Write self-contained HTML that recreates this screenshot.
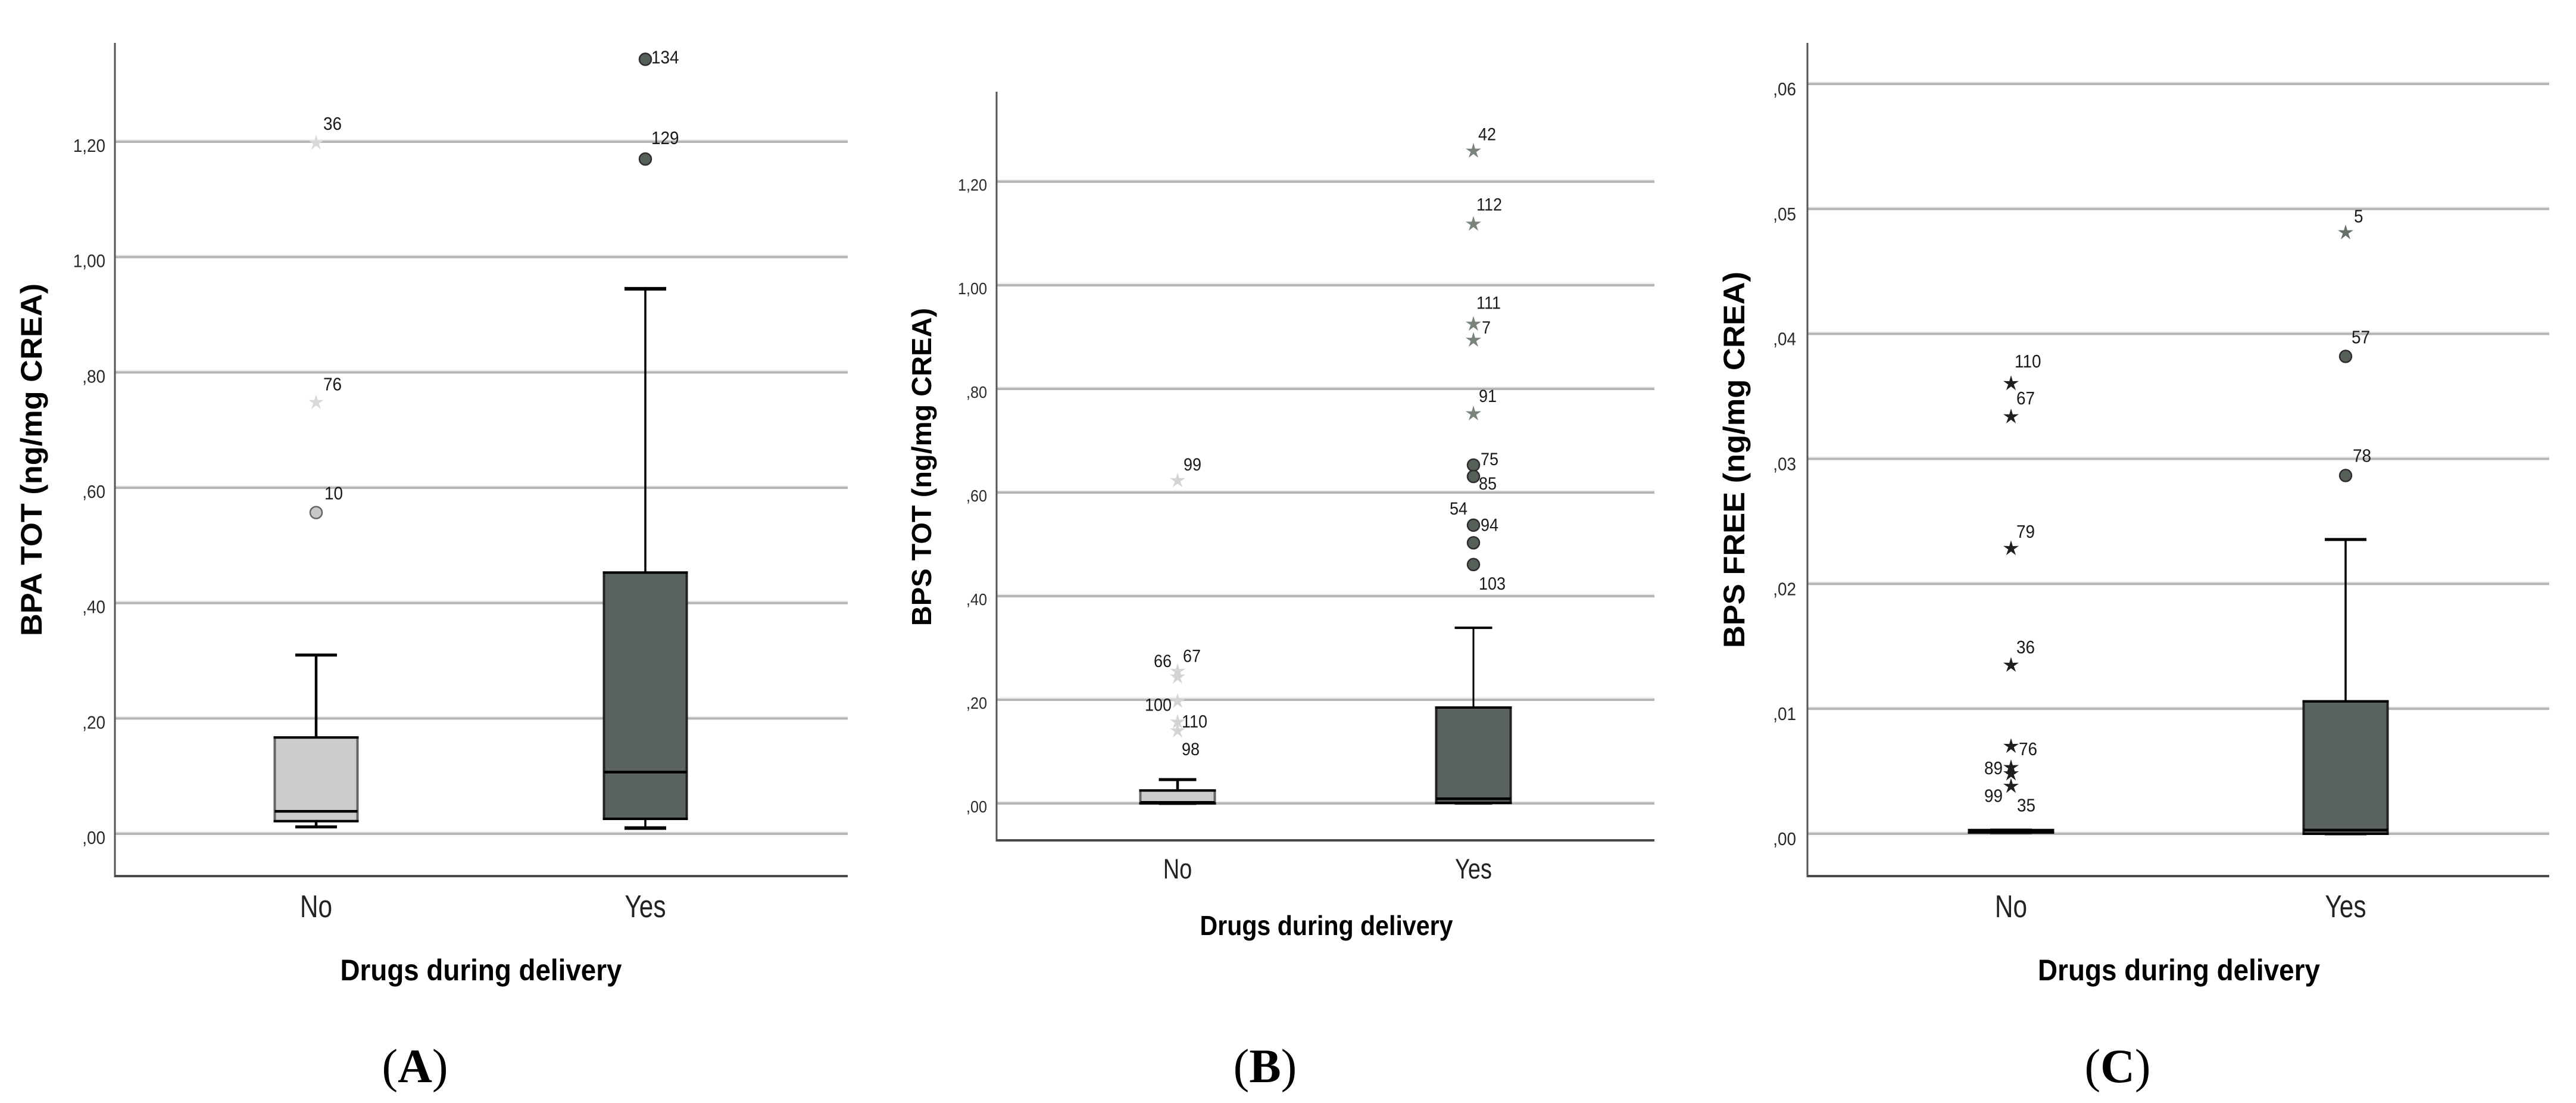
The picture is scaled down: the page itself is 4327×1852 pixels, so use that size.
<!DOCTYPE html>
<html lang="en">
<head>
<meta charset="utf-8">
<title>Boxplots by drugs during delivery</title>
<style>
html,body{margin:0;padding:0;background:#fff;width:4327px;height:1852px;overflow:hidden}
svg{display:block}
text{font-family:"Liberation Sans",sans-serif}
</style>
</head>
<body>
<svg id="figure" xmlns="http://www.w3.org/2000/svg" width="4327" height="1852" viewBox="0 0 4327 1852">
  <rect x="0" y="0" width="4327" height="1852" fill="#ffffff"/>
</svg>
<script>
// ---------- Data ----------
const categories = ['No', 'Yes'];

// Panel A: BPA TOT
const aTickValues = [0, 0.2, 0.4, 0.6, 0.8, 1.0, 1.2];
const aTickLabels = [',00', ',20', ',40', ',60', ',80', '1,00', '1,20'];
// box stats order: whisker low, q1, median, q3, whisker high
const aBoxNo = [0.012, 0.022, 0.039, 0.167, 0.31];
const aBoxYes = [0.010, 0.026, 0.107, 0.453, 0.945];
const aStarNoValues = [1.198, 0.748];
const aStarNoIds = ['36', '76'];
const aCircleNoValues = [0.557];
const aCircleNoIds = ['10'];
const aCircleYesValues = [1.343, 1.170];
const aCircleYesIds = ['134', '129'];

// Panel B: BPS TOT
const bTickValues = [0, 0.2, 0.4, 0.6, 0.8, 1.0, 1.2];
const bTickLabels = [',00', ',20', ',40', ',60', ',80', '1,00', '1,20'];
const bBoxNo = [0.000, 0.000, 0.002, 0.025, 0.046];
const bBoxYes = [0.000, 0.001, 0.009, 0.185, 0.339];
const bStarNoValues = [0.623, 0.255, 0.244, 0.197, 0.157, 0.140];
const bStarNoIds = ['99', '66', '67', '100', '110', '98'];
const bStarYesValues = [1.259, 1.118, 0.925, 0.894, 0.752];
const bStarYesIds = ['42', '112', '111', '7', '91'];
const bCircleYesValues = [0.653, 0.631, 0.537, 0.503, 0.461];
const bCircleYesIds = ['75', '85', '54', '94', '103'];

// Panel C: BPS FREE
const cTickValues = [0, 0.01, 0.02, 0.03, 0.04, 0.05, 0.06];
const cTickLabels = [',00', ',01', ',02', ',03', ',04', ',05', ',06'];
const cBoxNo = [0.0001, 0.0001, 0.0002, 0.0003, 0.0003];
const cBoxYes = [0.0000, 0.0000, 0.0003, 0.0106, 0.02355];
const cStarNoValues = [0.03603, 0.03337, 0.02283, 0.01349, 0.0070, 0.0053, 0.0048, 0.0038];
const cStarNoIds = ['110', '67', '79', '36', '76', '89', '99', '35'];
const cStarYesValues = [0.0481];
const cStarYesIds = ['5'];
const cCircleYesValues = [0.0382, 0.02867];
const cCircleYesIds = ['57', '78'];

// ---------- Layout (not data) ----------
const panels = [
  {
    key: 'a', letter: 'A', yTitle: 'BPA TOT (ng/mg CREA)',
    ticks: aTickValues, tickLabels: aTickLabels,
    boxes: [aBoxNo, aBoxYes],
    stars: [[aStarNoValues, aStarNoIds], [[], []]],
    circles: [[aCircleNoValues, aCircleNoIds], [aCircleYesValues, aCircleYesIds]],
    axisX: 193, axisTop: 72, axisBottom: 1471, right: 1424,
    zeroY: 1400, domainMax: 1.2, rangeTop: 238,
    centers: [531, 1084], boxW: 139, capW: 70,
    whiskerW: [4.5, 3.5], capH: [5, 6],
    tickSize: 31, tickRight: 177, tickDy: 17,
    catSize: 53, catY: 1540,
    xTitle: [808, 1646, 473, 50], yTitlePos: [70, 772, 592, 50],
    panelX: 697,
    labelSize: 31,
    offsets: { '36': [12, -22], '76': [12, -20], '10': [14, -22], '134': [10, 7], '129': [10, -25] },
    starColor: ['#d9d9d9', '#7a827c']
  },
  {
    key: 'b', letter: 'B', yTitle: 'BPS TOT (ng/mg CREA)',
    ticks: bTickValues, tickLabels: bTickLabels,
    boxes: [bBoxNo, bBoxYes],
    stars: [[bStarNoValues, bStarNoIds], [bStarYesValues, bStarYesIds]],
    circles: [[[], []], [bCircleYesValues, bCircleYesIds]],
    axisX: 1674, axisTop: 154, axisBottom: 1411, right: 2779,
    zeroY: 1349, domainMax: 1.2, rangeTop: 305,
    centers: [1978, 2475], boxW: 125, capW: 63,
    whiskerW: [4.5, 3], capH: [5, 4],
    tickSize: 28, tickRight: 1658, tickDy: 15,
    catSize: 47.5, catY: 1475,
    xTitle: [2228, 1570, 425, 46], yTitlePos: [1564, 784, 534, 46],
    panelX: 2125,
    labelSize: 30,
    offsets: {
      '99': [10, -17], '66': [-40, -7], '67': [9, -25], '100': [-55, 16], '110': [7, 9], '98': [7, 41],
      '42': [8, -18], '112': [5, -23], '111': [5, -26], '7': [14, -11], '91': [9, -20],
      '75': [12, 0], '85': [9, 22], '54': [-40, -18], '94': [12, -20], '103': [9, 42]
    },
    starColor: ['#d4d4d4', '#7a827c']
  },
  {
    key: 'c', letter: 'C', yTitle: 'BPS FREE (ng/mg CREA)',
    ticks: cTickValues, tickLabels: cTickLabels,
    boxes: [cBoxNo, cBoxYes],
    stars: [[cStarNoValues, cStarNoIds], [cStarYesValues, cStarYesIds]],
    circles: [[[], []], [cCircleYesValues, cCircleYesIds]],
    axisX: 3036, axisTop: 72, axisBottom: 1471, right: 4282,
    zeroY: 1400, domainMax: 0.06, rangeTop: 141,
    centers: [3378, 3940], boxW: 141, capW: 70,
    whiskerW: [4, 3.5], capH: [5, 5],
    tickSize: 31, tickRight: 3017, tickDy: 19,
    catSize: 53, catY: 1540,
    xTitle: [3660, 1646, 474, 50], yTitlePos: [2930, 772, 632, 50],
    panelX: 3557,
    labelSize: 31,
    offsets: {
      '110': [6, -27], '67': [9, -21], '79': [9, -18], '36': [9, -20], '76': [13, 15],
      '89': [-45, 11], '99': [-45, 47], '35': [10, 42],
      '5': [14, -17], '57': [10, -22], '78': [12, -23]
    },
    starColor: ['#1f1f1f', '#667069']
  }
];

const boxFill = ['#cccccc', '#5a635d'];
const boxSide = ['#666666', '#222222'];
const circleFill = ['#c8c8c8', '#566059'];
const circleStroke = ['#666666', '#2e2e2e'];
const NS = 'http://www.w3.org/2000/svg';
const root = document.getElementById('figure');

function make(tag, parent, attrs) {
  const el = document.createElementNS(NS, tag);
  for (const k in attrs) el.setAttribute(k, attrs[k]);
  parent.appendChild(el);
  return el;
}

function hLine(parent, x1, x2, y, color, w) {
  return make('line', parent, { x1: x1, x2: x2, y1: y, y2: y, stroke: color, 'stroke-width': w });
}
function vLine(parent, x, y1, y2, color, w) {
  return make('line', parent, { x1: x, x2: x, y1: y1, y2: y2, stroke: color, 'stroke-width': w });
}
function scaledText(parent, str, x, y, size, sx, anchor, color, weight) {
  const t = make('text', parent, {
    transform: 'translate(' + x + ',' + y + ') scale(' + sx + ',1)',
    'font-size': size, 'text-anchor': anchor, fill: color, 'font-weight': weight
  });
  t.textContent = str;
  return t;
}
function starPoints(cx, cy, r) {
  const pts = [];
  for (let i = 0; i < 10; i++) {
    const rad = i % 2 === 0 ? r : r * 0.36;
    const ang = -Math.PI / 2 + i * Math.PI / 5;
    pts.push((cx + rad * Math.cos(ang)).toFixed(1) + ',' + (cy + rad * Math.sin(ang)).toFixed(1));
  }
  return pts.join(' ');
}

function drawPanel(p) {
  const yScale = function (v) {
    return p.zeroY - (v / p.domainMax) * (p.zeroY - p.rangeTop);
  };

  const g = make('g', root, {});
  
  

  // Gridlines
  p.ticks.forEach(function (v, i) {
    const halo = hLine(g, p.axisX, p.right, yScale(v) - 2.5, '#ececec', 3);
    
    
    const line = hLine(g, p.axisX, p.right, yScale(v), '#b6b6b6', 4);
    
    
    const label = scaledText(g, p.tickLabels[i], p.tickRight, yScale(v) + p.tickDy, p.tickSize, 0.9, 'end', '#2a2a2a', 'normal');
    
    
  });

  // Axes
  const yAxis = vLine(g, p.axisX, p.axisTop, p.axisBottom + 2, '#555555', 3);
  
  
  const xAxis = hLine(g, p.axisX, p.right, p.axisBottom, '#4a4a4a', 4);
  
  

  // Boxes
  categories.forEach(function (cat, c) {
    const stats = p.boxes[c];
    const cx = p.centers[c];
    const catName = cat.toLowerCase();
    const left = cx - p.boxW / 2;
    const right = cx + p.boxW / 2;
    const yTop = yScale(stats[3]);
    const yBot = yScale(stats[1]);

    const whiskerUp = vLine(g, cx, yScale(stats[4]), yTop, '#000000', p.whiskerW[c]);
    
    
    const whiskerDown = vLine(g, cx, yBot, yScale(stats[0]), '#000000', p.whiskerW[c]);
    
    
    const capUp = hLine(g, cx - p.capW / 2, cx + p.capW / 2, yScale(stats[4]), '#000000', p.capH[c]);
    
    
    const capDown = hLine(g, cx - p.capW / 2, cx + p.capW / 2, yScale(stats[0]), '#000000', p.capH[c]);
    
    

    const box = make('rect', g, {
      x: left, y: yTop, width: p.boxW, height: Math.max(yBot - yTop, 1),
      fill: boxFill[c], stroke: boxSide[c], 'stroke-width': 4
    });
    
    

    const q3Line = hLine(g, left - 2, right + 2, yTop, '#000000', 4);
    
    
    const q1Line = hLine(g, left - 2, right + 2, yBot, '#000000', 4);
    
    
    const median = hLine(g, left, right, yScale(stats[2]), '#000000', 4.5);
    
    

    // Category tick label
    const catLabel = scaledText(g, cat, cx, p.catY, p.catSize, 0.8, 'middle', '#222222', 'normal');
    
    

    // Star outliers
    p.stars[c][0].forEach(function (v, i) {
      const id = p.stars[c][1][i];
      const off = p.offsets[id];
      const star = make('polygon', g, {
        points: starPoints(cx, yScale(v), 12),
        fill: p.starColor[c], stroke: p.starColor[c], 'stroke-width': 1
      });
      
      
      const lab = scaledText(g, id, cx + off[0], yScale(v) + off[1], p.labelSize, 0.9, 'start', '#1a1a1a', 'normal');
      
      
    });

    // Circle outliers
    p.circles[c][0].forEach(function (v, i) {
      const id = p.circles[c][1][i];
      const off = p.offsets[id];
      const dot = make('circle', g, {
        cx: cx, cy: yScale(v), r: 10,
        fill: circleFill[c], stroke: circleStroke[c], 'stroke-width': 2.5
      });
      
      
      const lab = scaledText(g, id, cx + off[0], yScale(v) + off[1], p.labelSize, 0.9, 'start', '#1a1a1a', 'normal');
      
      
    });
  });

  // X axis title
  const xt = make('text', g, {
    x: p.xTitle[0], y: p.xTitle[1], 'font-size': p.xTitle[3], 'font-weight': 'bold',
    'text-anchor': 'middle', fill: '#000000',
    textLength: p.xTitle[2], lengthAdjust: 'spacingAndGlyphs'
  });
  xt.textContent = 'Drugs during delivery';
  
  

  // Y axis title
  const yt = make('text', g, {
    transform: 'translate(' + p.yTitlePos[0] + ',' + p.yTitlePos[1] + ') rotate(-90)',
    x: 0, y: 0, 'font-size': p.yTitlePos[3], 'font-weight': 'bold',
    'text-anchor': 'middle', fill: '#000000',
    textLength: p.yTitlePos[2], lengthAdjust: 'spacingAndGlyphs'
  });
  yt.textContent = p.yTitle;
  
  

  // Panel caption
  const cap = make('text', g, {
    x: p.panelX, y: 1817, 'font-size': 80, 'text-anchor': 'middle', fill: '#000000',
    style: 'font-family:"Liberation Serif",serif'
  });
  
  
  const open = make('tspan', cap, {});
  open.textContent = '(';
  const letter = make('tspan', cap, { 'font-weight': 'bold' });
  letter.textContent = p.letter;
  const close = make('tspan', cap, {});
  close.textContent = ')';
}

panels.forEach(drawPanel);
</script>
</body>
</html>
